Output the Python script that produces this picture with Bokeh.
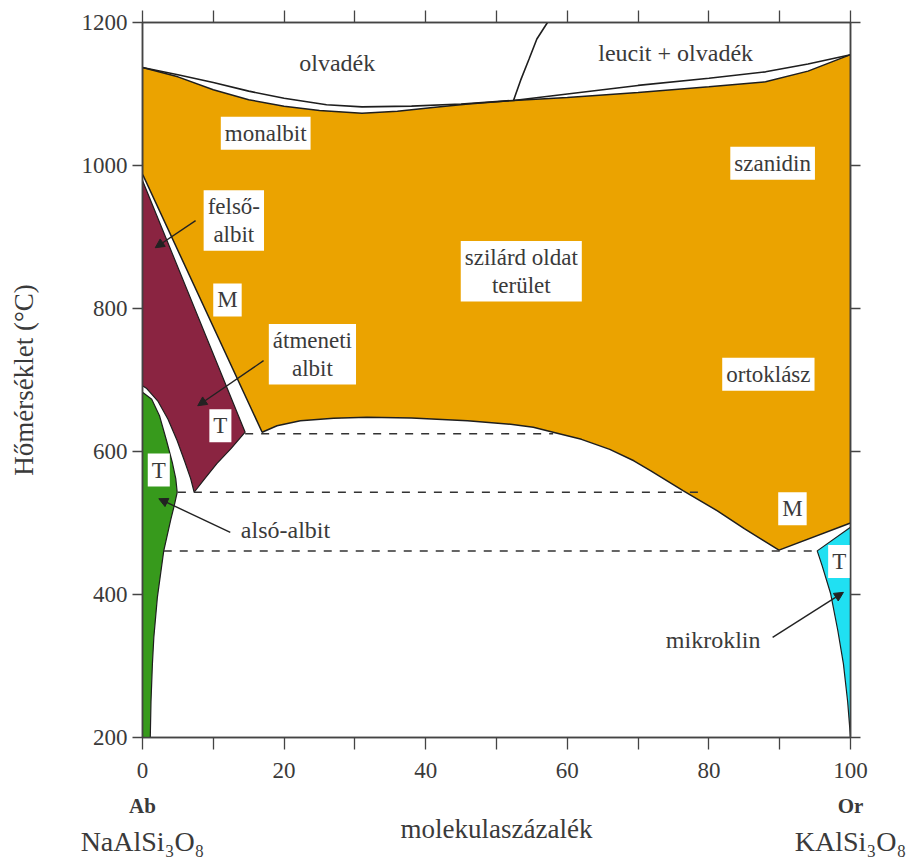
from bokeh.plotting import figure
from bokeh.models import (Range1d, FixedTicker, LinearAxis, Arrow, NormalHead,
                          ColumnDataSource, CustomLabelingPolicy)
from bokeh.core.properties import value
from bokeh.embed import file_html
from bokeh.resources import INLINE

# ---------------- data (mol% Or, temperature °C) ----------------
liquidus_x = [0, 5, 10, 15, 20, 26, 31, 38, 45, 52.4, 60, 70, 80, 88, 94, 100]
liquidus_t = [1137, 1127, 1116, 1104, 1094, 1085, 1082, 1083, 1086, 1091, 1100, 1112, 1122, 1131, 1142, 1155]

solidus_x = [0, 5, 10, 15, 20, 25, 31, 36, 41, 46, 52.4, 60, 70, 80, 88, 94, 100]
solidus_t = [1137, 1124, 1106, 1092, 1083, 1077, 1073, 1076, 1081, 1086, 1091, 1095, 1102, 1110, 1117, 1132, 1155]

leucite_x = [52.4, 53.4, 54.6, 55.7, 57.2]
leucite_t = [1091, 1119, 1149, 1177, 1200]

monalbit_edge_x = [16.9, 0]
monalbit_edge_t = [627, 988]

solvus_x = [16.9, 19, 22.3, 27, 31.7, 38, 45.9, 52, 55.2, 58, 62, 66, 69.4, 71.8, 76.4, 81.2, 85, 89.9, 100]
solvus_t = [627, 636, 643, 646.5, 648, 647, 643, 638, 634, 627, 617, 603, 587, 573, 545, 517, 492, 462, 500]

high_albite_x = [0, 14.5, 12.5, 10.5, 8.8, 7.3, 6.8, 6.0, 4.9, 3.6, 2.2, 0.6, 0]
high_albite_t = [979, 627, 604, 583, 562, 543, 562, 585, 615, 645, 670, 688, 692]

low_albite_x = [0, 1.3, 2.4, 3.4, 4.2, 4.7, 4.9, 4.5, 4.0, 3.0, 2.1, 1.6, 1.4, 1.2, 1.1, 0]
low_albite_t = [683, 673, 650, 615, 585, 562, 543, 525, 505, 461, 396, 340, 303, 250, 200, 200]

microcline_x = [95.3, 100, 100, 99.6, 99.0, 98.2, 97.2, 96.0]
microcline_t = [461, 494, 200, 250, 303, 350, 401, 440]

dash_t = [625, 543, 461]
dash_x0 = [14.5, 5.0, 3.0]
dash_x1 = [58, 79, 95.3]

boxed_text = ["monalbit", "szanidin", "felső-\nalbit", "M", "átmeneti\nalbit", "T",
              "T", "szilárd oldat\nterület", "ortoklász", "M", "T"]
boxed_x = [17.4, 89.0, 12.9, 12.0, 24.0, 11.0, 2.3, 53.5, 88.4, 91.8, 98.4]
boxed_t = [1045, 1003, 923, 812, 736, 636, 574, 852, 708, 520, 446]

free_text = ["olvadék", "leucit + olvadék", "alsó-albit", "mikroklin"]
free_x = [27.5, 75.3, 20.2, 80.6]
free_t = [1144, 1158, 490, 336]

arrow_x0 = [7.5, 17.1, 12.4, 89.0]
arrow_t0 = [923, 727, 487, 340]
arrow_x1 = [1.8, 7.8, 2.3, 99.0]
arrow_t1 = [885, 664, 534, 403]

x_major = [0, 20, 40, 60, 80, 100]
x_minor = [10, 30, 50, 70, 90]
y_major = [200, 400, 600, 800, 1000, 1200]
end_members = {0: "Ab", 100: "Or"}
formulas = {0: "NaAlSi₃O₈", 100: "KAlSi₃O₈"}

# ---------------- styling ----------------
FONT = "Liberation Serif"
TXT = "#3a3a3a"
AXC = "#444444"
LINE = "#1e1e1e"
ORANGE = "#EBA300"
BURGUNDY = "#8A2441"
GREEN = "#379A1C"
CYAN = "#20E0F2"

p = figure(x_range=Range1d(0, 100), y_range=Range1d(200, 1200),
           frame_width=708, frame_height=715,
           min_border_left=142, min_border_right=60,
           min_border_top=22, min_border_bottom=100,
           output_backend="svg", toolbar_location=None,
           background_fill_color="white", border_fill_color="white")
p.xgrid.visible = False
p.ygrid.visible = False
p.outline_line_color = AXC
p.outline_line_width = 1.5

bottom_ax = p.below[0]
left_ax = p.left[0]

xt = FixedTicker(ticks=x_major, minor_ticks=x_minor)
yt = FixedTicker(ticks=y_major, minor_ticks=[])
no_labels = CustomLabelingPolicy(code="""
for (const i of indices)
  indices.unset(i)
""")

bottom_ax.ticker = xt
left_ax.ticker = yt
top_ax = LinearAxis(ticker=xt, major_label_text_font_size="0px",
                    major_label_standoff=0, major_label_policy=no_labels)
right_ax = LinearAxis(ticker=yt, major_label_text_font_size="0px",
                      major_label_standoff=0, major_label_policy=no_labels)
p.add_layout(top_ax, "above")
p.add_layout(right_ax, "right")

for ax in [bottom_ax, left_ax, top_ax, right_ax]:
    ax.axis_line_color = AXC
    ax.axis_line_width = 1.5
    ax.major_tick_line_color = AXC
    ax.minor_tick_line_color = AXC
    ax.major_tick_line_width = 1.3
    ax.minor_tick_line_width = 1.3
    ax.major_tick_in = 0
    ax.minor_tick_in = 0
    ax.major_label_text_font = FONT
    ax.major_label_text_color = TXT
    ax.axis_label_text_font = FONT
    ax.axis_label_text_font_style = "normal"
    ax.axis_label_text_color = TXT

for ax in [bottom_ax, top_ax]:
    ax.major_tick_out = 12
    ax.minor_tick_out = 12
for ax in [left_ax, right_ax]:
    ax.major_tick_out = 10
    ax.minor_tick_out = 0

bottom_ax.major_label_text_font_size = "23px"
bottom_ax.major_label_standoff = 13
left_ax.major_label_text_font_size = "23px"
left_ax.major_label_standoff = 5
left_ax.axis_label = "Hőmérséklet (°C)"
left_ax.axis_label_text_font_size = "27px"
left_ax.axis_label_standoff = 40

# end-member names + axis title, and formulas, as extra unlined axes below
em_ax = LinearAxis(ticker=FixedTicker(ticks=list(end_members.keys()), minor_ticks=[]),
                   major_label_overrides=end_members)
fm_ax = LinearAxis(ticker=FixedTicker(ticks=list(formulas.keys()), minor_ticks=[]),
                   major_label_overrides=formulas)
for ax in [em_ax, fm_ax]:
    ax.axis_line_color = None
    ax.major_tick_line_color = None
    ax.minor_tick_line_color = None
    ax.major_tick_out = 0
    ax.minor_tick_out = 0
    ax.major_label_text_font = FONT
    ax.major_label_text_color = TXT
    ax.axis_label_text_font = FONT
    ax.axis_label_text_font_style = "normal"
    ax.axis_label_text_color = TXT
em_ax.major_label_text_font_style = "bold"
em_ax.major_label_text_font_size = "21px"
em_ax.major_label_standoff = 13
em_ax.axis_label = "molekulaszázalék"
em_ax.axis_label_text_font_size = "27px"
em_ax.axis_label_standoff = -7
fm_ax.major_label_text_font_size = "28px"
fm_ax.major_label_standoff = -21
p.add_layout(em_ax, "below")
p.add_layout(fm_ax, "below")

# ---------------- regions ----------------
orange_x = solidus_x + solvus_x[::-1] + monalbit_edge_x[1:]
orange_t = solidus_t + solvus_t[::-1] + monalbit_edge_t[1:]
p.patch(orange_x, orange_t, fill_color=ORANGE, line_color=LINE, line_width=1.5)
p.patch(high_albite_x, high_albite_t, fill_color=BURGUNDY, line_color=LINE, line_width=1.2)
p.patch(low_albite_x, low_albite_t, fill_color=GREEN, line_color=LINE, line_width=1.2)
p.patch(microcline_x, microcline_t, fill_color=CYAN, line_color=LINE, line_width=1.2)

p.line(liquidus_x, liquidus_t, line_color=LINE, line_width=1.6)
p.line(leucite_x, leucite_t, line_color=LINE, line_width=1.6)

p.segment(x0=dash_x0, y0=dash_t, x1=dash_x1, y1=dash_t, line_color="#333333",
          line_width=1.5, line_dash="8 8")

# ---------------- labels ----------------
bsrc = ColumnDataSource(dict(x=boxed_x, y=boxed_t, text=boxed_text))
p.text(x="x", y="y", text="text", source=bsrc, text_font=value(FONT),
       text_font_size="23px", text_color=TXT, text_align="center",
       text_baseline="middle", text_line_height=1.1,
       background_fill_color="white", padding=4)

fsrc = ColumnDataSource(dict(x=free_x, y=free_t, text=free_text))
p.text(x="x", y="y", text="text", source=fsrc, text_font=value(FONT),
       text_font_size="24px", text_color=TXT, text_align="center",
       text_baseline="middle")

asrc = ColumnDataSource(dict(x0=arrow_x0, y0=arrow_t0, x1=arrow_x1, y1=arrow_t1))
p.add_layout(Arrow(end=NormalHead(size=9, fill_color="#222222", line_color="#222222"),
                   x_start="x0", y_start="y0", x_end="x1", y_end="y1",
                   source=asrc, line_color="#222222", line_width=1.4))

open("out.html", "w").write(file_html(p, INLINE))
